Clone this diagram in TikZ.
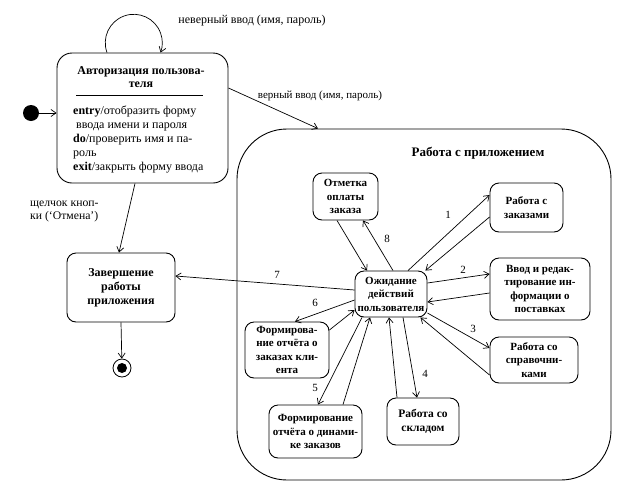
\documentclass[tikz,border=0pt]{standalone}
\usepackage{fontspec}
\setmainfont{Liberation Serif}
\usetikzlibrary{arrows.meta}

\begin{document}
\begin{tikzpicture}
  [x=1pt,y=-1pt,>={Straight Barb[length=5pt,width=7pt]},
   stbox/.style={draw,rounded corners=9pt,line width=0.9pt,align=center,
     font=\bfseries\fontsize{11}{13.5}\selectfont,inner sep=1pt},
   tr/.style={->,line width=0.7pt},
   lbl/.style={font=\fontsize{11}{13}\selectfont,inner sep=0pt}]
  \useasboundingbox (0,0) rectangle (623,493);

  % outer state
  \node[draw,rounded corners=50pt,line width=0.9pt,minimum width=374pt,minimum height=351pt] (work) at (424,304.5) {};
  \node[font=\bfseries\fontsize{13}{15}\selectfont] (worktitle) at (478,153) {Работа с приложением};

  % authorisation state
  \node[stbox,rounded corners=15pt,minimum width=171pt,minimum height=130pt] (auth) at (142.5,118) {};
  \node[font=\bfseries\fontsize{12}{13}\selectfont,align=center] (authtitle) at (141,77) {Авторизация пользова-\\теля};
  \draw[line width=0.7pt] (76,95) -- (203,95);
  \node[anchor=north west,align=left,inner sep=0pt,font=\fontsize{12}{14}\selectfont] (authbody) at (73,106)
    {\textbf{entry}/отобразить форму\\
     \ ввода имени и пароля\\
     \textbf{do}/проверить имя и па-\\
     роль\\
     \textbf{exit}/закрыть форму ввода};

  \node[circle,fill,inner sep=0pt,minimum size=16pt] (init) at (31,113) {};
  \node[stbox,font=\bfseries\fontsize{12}{14}\selectfont,minimum width=108pt,minimum height=69pt] (finish) at (121,287.5) {Завершение\\работы\\приложения};
  \node[circle,draw,inner sep=0pt,minimum size=18pt,line width=0.8pt] (final) at (122,368) {};
  \node[circle,fill,inner sep=0pt,minimum size=10pt] (finaldot) at (final) {};

  % inner states
  \node[stbox,minimum width=72pt,minimum height=46pt] (wait) at (391,294) {Ожидание\\действий\\пользователя};
  \node[stbox,minimum width=65pt,minimum height=47pt] (pay) at (345.5,196.5) {Отметка\\оплаты\\заказа};
  \node[stbox,minimum width=73pt,minimum height=49pt] (orders) at (526.5,207.5) {Работа с\\заказами};
  \node[stbox,minimum width=100pt,minimum height=62pt] (supply) at (540,289) {Ввод и редак-\\тирование ин-\\формации о\\поставках};
  \node[stbox,minimum width=88pt,minimum height=46pt] (ref) at (534,360) {Работа со\\справочни-\\ками};
  \node[stbox,font=\bfseries\fontsize{11.5}{14}\selectfont,minimum width=72pt,minimum height=47pt] (stock) at (423,421.5) {Работа со\\складом};
  \node[stbox,minimum width=93pt,minimum height=53pt] (dyn) at (315.5,431.5) {Формирование\\отчёта о динами-\\ке заказов};
  \node[stbox,minimum width=84pt,minimum height=56pt] (client) at (287,350) {Формирова-\\ние отчёта о\\заказах кли-\\ента};

  % transitions
  \draw[tr] (init) -- (init -| auth.west);
  \draw[tr] ([xshift=-35.5pt]auth.north) arc[start angle=-200,end angle=20,radius=28.5];
  \draw[tr] ([yshift=30pt]auth.east) -- ([xshift=-106pt]work.north);
  \draw[tr] ([xshift=-7.5pt]auth.south) -- ([xshift=-2pt]finish.north);
  \draw[tr] (finish.south) -- (final);
  \draw[tr] ([yshift=4pt]wait.west) -- ([yshift=11.5pt]finish.east);

  \draw[tr] ([xshift=-8.5pt]pay.south) -- ([xshift=-24pt]wait.north);
  \draw[tr] ([xshift=2pt]wait.north) -- ([xshift=17.5pt]pay.south);
  \draw[tr] ([xshift=17pt]wait.north) -- ([yshift=12.5pt]orders.west);
  \draw[tr] ([yshift=-9.5pt]orders.west) -- ([xshift=-2pt]wait.north east);
  \draw[tr] ([yshift=11pt]wait.east) -- ([yshift=15pt]supply.west);
  \draw[tr] ([yshift=-4pt]supply.west) -- ([yshift=-8pt]wait.east);
  \draw[tr] ([yshift=-19pt]wait.east) -- ([yshift=12pt]ref.west);
  \draw[tr] ([yshift=-15pt]ref.west) -- ([xshift=-7pt]wait.south east);
  \draw[tr] ([xshift=12pt]wait.south) -- ([xshift=-6pt]stock.north);
  \draw[tr] ([xshift=-26pt]stock.north) -- ([xshift=-2pt]wait.south);
  \draw[tr] ([xshift=-29pt]wait.south) -- ([xshift=2.5pt]dyn.north);
  \draw[tr] ([xshift=27.5pt]dyn.north) -- ([xshift=-21pt]wait.south);
  \draw[tr] ([yshift=-6pt]wait.west) -- ([xshift=8pt]client.north);
  \draw[tr] ([yshift=20pt]client.east) -- ([yshift=-16pt]wait.west);

  % labels
  \node[lbl,font=\fontsize{12}{14}\selectfont] (wronglbl) at (252,21) {неверный ввод (имя, пароль)};
  \node[lbl] (rightlbl) at (320,96) {верный ввод (имя, пароль)};
  \node[lbl,font=\fontsize{11.7}{13}\selectfont,align=left,anchor=west] (cancellbl) at (30,211.5) {щелчок кноп-\\ки (‘Отмена’)};
  \foreach \num/\px/\py in {1/448/215,2/463/270,3/473/329,4/425/374,5/315/388,6/315/303,7/277/275,8/387/239}
    \node[lbl] (num\num) at (\px,\py) {\num};
\end{tikzpicture}
\end{document}
